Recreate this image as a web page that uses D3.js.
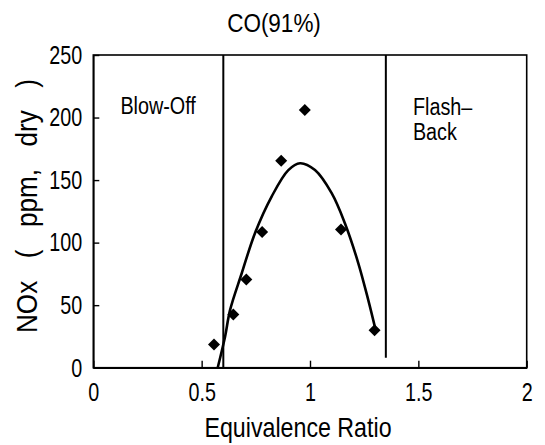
<!DOCTYPE html>
<html>
<head>
<meta charset="utf-8">
<script src="https://cdn.jsdelivr.net/npm/d3@7"></script>
<style>
  html, body { margin: 0; padding: 0; background: #fff; }
  svg { display: block; }
  text { font-family: "Liberation Sans", Arial, sans-serif; fill: #000; }
</style>
</head>
<body>
<svg id="chart" width="545" height="445"></svg>
<script>
// ---- data ----
const title = "CO(91%)";
const xLabel = "Equivalence Ratio";
const yLabel = "NOx ( ppm, dry )";
const xTicks = [0, 0.5, 1, 1.5, 2];
const xTickLabels = ["0", "0.5", "1", "1.5", "2"];
const yTicks = [0, 50, 100, 150, 200, 250];
const yTickLabels = ["0", "50", "100", "150", "200", "250"];

// measured points
const phi = [0.557, 0.646, 0.706, 0.779, 0.867, 0.976, 1.143, 1.298];
const nox = [18.5, 42.5, 70.5, 108.5, 165.5, 206, 110.5, 30];

// fitted trend line
const fitX = [0.574, 0.608, 0.631, 0.685, 0.746, 0.823, 0.900, 0.954, 1.023, 1.100, 1.161, 1.223, 1.269, 1.303];
const fitY = [0, 24.8, 46, 75.5, 107.5, 136.8, 158, 163.5, 158, 139.5, 115.5, 83.5, 54, 30];

// stability limits
const limitX = [0.6, 1.35];
const limitYBottom = [0, 8];
const limitYTop = [250, 250];
const regionLabels = [["Blow-Off"], ["Flash\u2013", "Back"]];
const regionLabelX = [0.125, 1.475];
const regionLabelY = [203, 202];

// ---- drawing ----
const svg = d3.select("#chart");
const margin = { left: 93.3, right: 18.3, top: 55, bottom: 77.3 };
const W = 545, H = 445;
const x = d3.scaleLinear().domain([0, 2]).range([margin.left, W - margin.right]);
const y = d3.scaleLinear().domain([0, 250]).range([H - margin.bottom, margin.top]);
const SX = 0.76; // horizontal squeeze for the narrow type of the original

// frame
svg.append("rect")
  .attr("x", x(0)).attr("y", y(250))
  .attr("width", x(2) - x(0)).attr("height", y(0) - y(250))
  .attr("fill", "none").attr("stroke", "#000").attr("stroke-width", 1.6);

// x axis (ticks inward)
const xAxis = d3.axisBottom(x).tickValues(xTicks)
  .tickFormat((d, i) => xTickLabels[i]).tickSizeInner(-7).tickSizeOuter(0).tickPadding(15);
const gx = svg.append("g").attr("transform", `translate(0,${y(0)})`).call(xAxis);
gx.select(".domain").attr("stroke-width", 1.6);
gx.selectAll(".tick line").attr("stroke-width", 1.4);
gx.selectAll(".tick text").attr("font-size", 26)
  .attr("font-family", "Liberation Sans, Arial, sans-serif")
  .attr("transform", `scale(${SX},1)`);

// y axis (ticks inward)
const yAxis = d3.axisLeft(y).tickValues(yTicks)
  .tickFormat((d, i) => yTickLabels[i]).tickSizeInner(-6).tickSizeOuter(0).tickPadding(11);
const gy = svg.append("g").attr("transform", `translate(${x(0)},0)`).call(yAxis);
gy.select(".domain").attr("stroke-width", 1.6);
gy.selectAll(".tick line").attr("stroke-width", 1.4);
gy.selectAll(".tick text").attr("font-size", 26)
  .attr("font-family", "Liberation Sans, Arial, sans-serif")
  .attr("x", -11 / SX)
  .attr("transform", `scale(${SX},1)`);

// limit lines
svg.selectAll("line.limit").data(limitX).join("line")
  .attr("class", "limit")
  .attr("x1", d => x(d)).attr("x2", d => x(d))
  .attr("y1", (d, i) => y(limitYTop[i])).attr("y2", (d, i) => y(limitYBottom[i]))
  .attr("stroke", "#000").attr("stroke-width", 2);

// region labels
regionLabels.forEach((lines, i) => {
  const g = svg.append("g")
    .attr("transform", `translate(${x(regionLabelX[i])},${y(regionLabelY[i])}) scale(0.86,1)`);
  const t = g.append("text").attr("x", 0).attr("y", 0).attr("font-size", 23);
  lines.forEach((s, j) => {
    t.append("tspan").attr("x", 0).attr("dy", j === 0 ? 0 : 25).text(s);
  });
});

// fit curve
const line = d3.line().x(d => x(d[0])).y(d => y(d[1])).curve(d3.curveCatmullRom);
svg.append("path")
  .datum(fitX.map((v, i) => [v, fitY[i]]))
  .attr("d", line)
  .attr("fill", "none").attr("stroke", "#000").attr("stroke-width", 2.6);

// points (diamonds)
const diamond = d3.symbol().type(d3.symbolSquare).size(72);
svg.selectAll("path.pt").data(phi.map((v, i) => [v, nox[i]])).join("path")
  .attr("class", "pt")
  .attr("d", diamond)
  .attr("transform", d => `translate(${x(d[0])},${y(d[1])}) rotate(45)`)
  .attr("fill", "#000");

// title
svg.append("g").attr("transform", "translate(274,32) scale(0.9,1)")
  .append("text").attr("text-anchor", "middle").attr("font-size", 25).text(title);

// x label
svg.append("g").attr("transform", "translate(298,437) scale(0.86,1)")
  .append("text").attr("text-anchor", "middle").attr("font-size", 27).text(xLabel);

// y label
svg.append("g").attr("transform", `translate(37,${(72 + 340) / 2}) rotate(-90) scale(0.9,1)`)
  .append("text")
  .attr("text-anchor", "middle").attr("font-size", 29)
  .attr("word-spacing", 17)
  .text(yLabel);
</script>
</body>
</html>
